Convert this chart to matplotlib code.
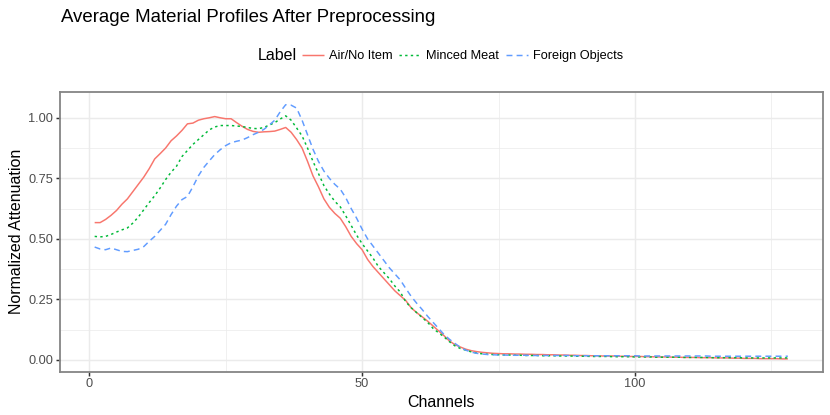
#!/usr/bin/env python

'''Average material profiles after preprocessing, drawn in a ggplot theme_bw look'''

import numpy as np
import matplotlib
matplotlib.use('Agg')
from matplotlib.pyplot import figure
from matplotlib.ticker import MultipleLocator, FormatStrFormatter

labels = ['Air/No Item', 'Minced Meat', 'Foreign Objects']

channels = list(range(1, 129))

air = [0.567, 0.567, 0.580, 0.597, 0.617, 0.643, 0.665, 0.695, 0.725, 0.755,
       0.790, 0.830, 0.852, 0.875, 0.905, 0.925, 0.948, 0.975, 0.978, 0.990,
       0.996, 1.000, 1.005, 1.000, 0.996, 0.996, 0.980, 0.965, 0.952, 0.944,
       0.940, 0.942, 0.943, 0.945, 0.952, 0.960, 0.940, 0.910, 0.875, 0.820,
       0.760, 0.715, 0.665, 0.630, 0.605, 0.585, 0.550, 0.510, 0.480, 0.455,
       0.415, 0.385, 0.360, 0.335, 0.310, 0.285, 0.265, 0.245, 0.215, 0.195,
       0.178, 0.160, 0.140, 0.120, 0.100, 0.078, 0.063, 0.053, 0.044, 0.038,
       0.034, 0.031, 0.029, 0.027, 0.026, 0.025, 0.025, 0.024, 0.024, 0.023,
       0.023, 0.022, 0.022, 0.021, 0.021, 0.020, 0.020, 0.019, 0.019, 0.018,
       0.018, 0.017, 0.017, 0.016, 0.016, 0.016, 0.015, 0.015, 0.014, 0.014,
       0.014, 0.013, 0.013, 0.012, 0.012, 0.012, 0.011, 0.011, 0.010, 0.010,
       0.010, 0.009, 0.009, 0.009, 0.008, 0.008, 0.008, 0.007, 0.007, 0.006,
       0.006, 0.006, 0.005, 0.005, 0.005, 0.005, 0.004, 0.004]

meat = [0.510, 0.508, 0.510, 0.518, 0.528, 0.537, 0.545, 0.565, 0.590, 0.620,
        0.650, 0.678, 0.710, 0.745, 0.775, 0.800, 0.840, 0.865, 0.890, 0.910,
        0.930, 0.950, 0.962, 0.968, 0.968, 0.968, 0.966, 0.964, 0.960, 0.956,
        0.955, 0.960, 0.970, 0.980, 0.995, 1.008, 0.990, 0.958, 0.925, 0.875,
        0.820, 0.770, 0.720, 0.685, 0.655, 0.632, 0.595, 0.555, 0.515, 0.480,
        0.450, 0.420, 0.385, 0.360, 0.335, 0.305, 0.280, 0.240, 0.215, 0.195,
        0.175, 0.155, 0.130, 0.112, 0.095, 0.075, 0.058, 0.047, 0.040, 0.033,
        0.028, 0.025, 0.023, 0.022, 0.021, 0.020, 0.020, 0.019, 0.019, 0.018,
        0.018, 0.018, 0.017, 0.017, 0.017, 0.016, 0.016, 0.016, 0.015, 0.015,
        0.015, 0.014, 0.014, 0.014, 0.014, 0.013, 0.013, 0.013, 0.013, 0.012,
        0.012, 0.012, 0.012, 0.011, 0.011, 0.011, 0.011, 0.011, 0.010, 0.010,
        0.010, 0.010, 0.010, 0.009, 0.009, 0.009, 0.009, 0.009, 0.009, 0.008,
        0.008, 0.008, 0.008, 0.008, 0.008, 0.008, 0.008, 0.008]

foreign = [0.466, 0.458, 0.455, 0.462, 0.455, 0.448, 0.447, 0.452, 0.457, 0.468,
           0.490, 0.510, 0.535, 0.560, 0.600, 0.635, 0.662, 0.675, 0.715, 0.760,
           0.795, 0.822, 0.848, 0.868, 0.885, 0.897, 0.903, 0.908, 0.918, 0.930,
           0.940, 0.952, 0.970, 0.990, 1.025, 1.054, 1.052, 1.040, 0.990, 0.930,
           0.870, 0.820, 0.780, 0.750, 0.725, 0.705, 0.670, 0.625, 0.585, 0.540,
           0.500, 0.470, 0.440, 0.410, 0.380, 0.355, 0.330, 0.295, 0.262, 0.234,
           0.208, 0.180, 0.155, 0.130, 0.105, 0.085, 0.068, 0.052, 0.040, 0.032,
           0.027, 0.024, 0.022, 0.021, 0.020, 0.020, 0.019, 0.019, 0.019, 0.019,
           0.018, 0.018, 0.018, 0.018, 0.018, 0.018, 0.018, 0.018, 0.017, 0.017,
           0.017, 0.017, 0.017, 0.017, 0.017, 0.017, 0.017, 0.017, 0.017, 0.017,
           0.016, 0.016, 0.016, 0.016, 0.016, 0.016, 0.016, 0.016, 0.016, 0.016,
           0.016, 0.016, 0.016, 0.015, 0.015, 0.015, 0.015, 0.015, 0.015, 0.015,
           0.015, 0.015, 0.015, 0.015, 0.015, 0.015, 0.015, 0.015]

colours = ['#F8766D', '#00BA38', '#619CFF']
dashes = [None, (1.6, 2.2), (4.0, 2.8)]

W, H = 830, 415
LW = 1.07


def expand(values, mult=0.05):
    '''ggplot style continuous scale expansion'''
    lo, hi = min(values), max(values)
    pad = (hi - lo) * mult
    return (lo - pad, hi + pad)


def plot(series, name='out.png'):
    matplotlib.rcParams['font.family'] = ['Liberation Sans', 'DejaVu Sans']
    fig = figure(figsize=(W / 100, H / 100), dpi=100)
    ax = fig.add_axes([60 / W, (H - 371.6) / H, (822.5 - 60) / W, (371.6 - 92) / H])

    handles = []
    for ys, label, c, d in zip(series, labels, colours, dashes):
        line, = ax.plot(channels, ys, color=c, lw=LW, label=label,
                        solid_capstyle='butt', dash_capstyle='butt')
        if d is not None:
            line.set_dashes(d)
        handles.append(line)

    ax.set_xlim(expand(channels))
    ax.set_ylim(expand([v for ys in series for v in ys]))
    ax.xaxis.set_major_locator(MultipleLocator(50))
    ax.xaxis.set_minor_locator(MultipleLocator(25))
    ax.yaxis.set_major_locator(MultipleLocator(0.25))
    ax.yaxis.set_minor_locator(MultipleLocator(0.125))
    ax.yaxis.set_major_formatter(FormatStrFormatter('%.2f'))

    ax.grid(which='major', color='#EBEBEB', lw=LW)
    ax.grid(which='minor', color='#EBEBEB', lw=LW / 2)
    ax.set_axisbelow(True)
    for s in ax.spines.values():
        s.set_color('#858585')
        s.set_linewidth(1.3)
    ax.tick_params(which='major', length=2.75, width=LW, color='#333333',
                   labelcolor='#4D4D4D', labelsize=9.2, pad=2.2)
    ax.tick_params(which='minor', length=0)

    ax.set_xlabel('Channels', fontsize=11.5, labelpad=3)
    ax.set_ylabel('Normalized Attenuation', fontsize=11.5, labelpad=3)

    fig.text(61 / W, 1 - 18 / H, 'Average Material Profiles After Preprocessing',
             fontsize=13.4, ha='left', va='center')

    fig.text(258 / W, 1 - 56 / H, 'Label', fontsize=11.5, ha='left', va='center')
    fig.legend(handles=handles, loc='center left', bbox_to_anchor=(302 / W, 1 - 56 / H),
               ncol=3, frameon=False, fontsize=9.2, handlelength=1.7,
               handletextpad=0.4, columnspacing=0.55, borderaxespad=0, borderpad=0)

    fig.savefig(name, dpi=100)


if __name__ == '__main__':
    plot([air, meat, foreign])
